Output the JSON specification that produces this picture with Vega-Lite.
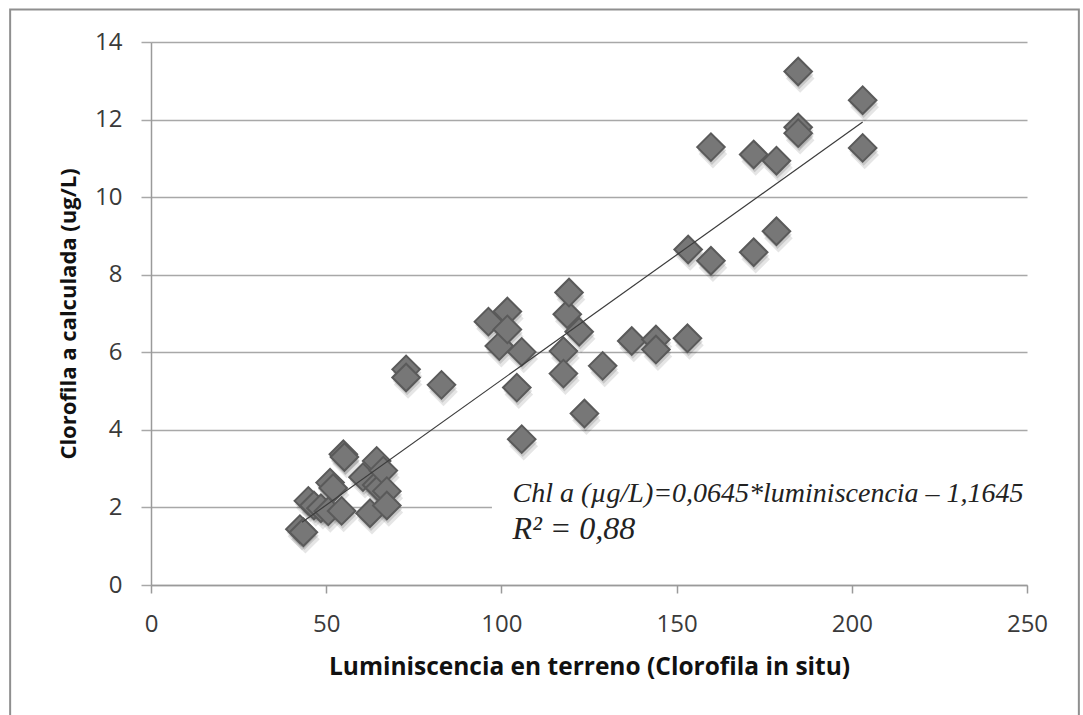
{
  "$schema": "https://vega.github.io/schema/vega-lite/v6.json",
  "width": 876,
  "height": 543,
  "autosize": "none",
  "padding": {"left": 151, "top": 42, "right": 56, "bottom": 130},
  "background": "white",
  "config": {
    "view": {"stroke": null},
    "font": "Open Sans"
  },
  "datasets": {
    "muestras": [
      {"lum": 42.5, "chl": 1.44}, {"lum": 43.5, "chl": 1.36}, {"lum": 44.9, "chl": 2.17},
      {"lum": 46.5, "chl": 2.05}, {"lum": 48.5, "chl": 1.98}, {"lum": 50.6, "chl": 1.9},
      {"lum": 51.1, "chl": 2.64}, {"lum": 52.0, "chl": 2.5}, {"lum": 54.4, "chl": 1.91},
      {"lum": 54.9, "chl": 3.37}, {"lum": 55.2, "chl": 3.3}, {"lum": 60.5, "chl": 2.78},
      {"lum": 62.5, "chl": 1.85}, {"lum": 64.4, "chl": 3.2}, {"lum": 64.4, "chl": 2.58},
      {"lum": 65.2, "chl": 2.5}, {"lum": 66.3, "chl": 2.95}, {"lum": 67.3, "chl": 2.42},
      {"lum": 67.3, "chl": 2.05},
      {"lum": 72.8, "chl": 5.56}, {"lum": 72.8, "chl": 5.35}, {"lum": 82.9, "chl": 5.16},
      {"lum": 96.3, "chl": 6.79}, {"lum": 99.4, "chl": 6.16}, {"lum": 101.7, "chl": 7.05},
      {"lum": 101.7, "chl": 6.59}, {"lum": 104.4, "chl": 5.09}, {"lum": 105.8, "chl": 6.01},
      {"lum": 105.8, "chl": 3.76}, {"lum": 117.7, "chl": 6.03}, {"lum": 117.7, "chl": 5.45},
      {"lum": 118.8, "chl": 6.98}, {"lum": 119.3, "chl": 7.54}, {"lum": 122.2, "chl": 6.53},
      {"lum": 123.7, "chl": 4.42}, {"lum": 128.9, "chl": 5.65}, {"lum": 137.2, "chl": 6.29},
      {"lum": 144.1, "chl": 6.33}, {"lum": 144.1, "chl": 6.07}, {"lum": 153.1, "chl": 6.36},
      {"lum": 153.3, "chl": 8.65}, {"lum": 159.8, "chl": 8.36}, {"lum": 159.8, "chl": 11.29},
      {"lum": 172.0, "chl": 8.58}, {"lum": 172.0, "chl": 11.1}, {"lum": 178.5, "chl": 9.12},
      {"lum": 178.5, "chl": 10.94}, {"lum": 184.7, "chl": 13.24}, {"lum": 184.7, "chl": 11.8},
      {"lum": 184.7, "chl": 11.65}, {"lum": 203.1, "chl": 12.5}, {"lum": 203.1, "chl": 11.27}
    ],
    "tendencia": [
      {"lum": 43.1, "chl": 1.615},
      {"lum": 203.1, "chl": 11.935}
    ]
  },
  "layer": [
    {
      "data": {"values": [{}]},
      "mark": {"type": "rect", "fill": "white", "stroke": null, "clip": false},
      "encoding": {
        "x": {"datum": 97.3, "type": "quantitative", "scale": {"domain": [0, 250], "nice": false}},
        "x2": {"datum": 251.5},
        "y": {"datum": 0.05, "type": "quantitative", "scale": {"domain": [0, 14], "nice": false}},
        "y2": {"datum": 2.95}
      }
    },
    {
      "data": {"values": [{}]},
      "mark": {"type": "rect", "fill": null, "stroke": "#8f8f8f", "strokeWidth": 2, "clip": false},
      "encoding": {
        "x": {"datum": -40.2, "type": "quantitative", "scale": {"domain": [0, 250], "nice": false}},
        "x2": {"datum": 264.8},
        "y": {"datum": 14.84, "type": "quantitative", "scale": {"domain": [0, 14], "nice": false}},
        "y2": {"datum": -3.8}
      }
    },
    {
      "data": {"name": "muestras"},
      "mark": {"type": "point", "shape": "diamond", "filled": true, "size": 820, "color": "#000000", "opacity": 0.1, "xOffset": 2, "yOffset": 7},
      "encoding": {
        "x": {"field": "lum", "type": "quantitative", "scale": {"domain": [0, 250], "nice": false}},
        "y": {"field": "chl", "type": "quantitative", "scale": {"domain": [0, 14], "nice": false}}
      }
    },
    {
      "data": {"name": "muestras"},
      "mark": {"type": "point", "shape": "diamond", "filled": true, "size": 820, "color": "#000000", "opacity": 0.13, "xOffset": 1, "yOffset": 3.5},
      "encoding": {
        "x": {"field": "lum", "type": "quantitative", "scale": {"domain": [0, 250], "nice": false}},
        "y": {"field": "chl", "type": "quantitative", "scale": {"domain": [0, 14], "nice": false}}
      }
    },
    {
      "data": {"name": "muestras"},
      "mark": {"type": "point", "shape": "diamond", "filled": true, "size": 760, "fill": "#777777", "stroke": "#5a5a5a", "strokeWidth": 2, "opacity": 1},
      "encoding": {
        "x": {
          "field": "lum",
          "type": "quantitative",
          "scale": {"domain": [0, 250], "nice": false},
          "axis": {
            "title": "Luminiscencia en terreno  (Clorofila in situ)",
            "values": [0, 50, 100, 150, 200, 250],
            "grid": false,
            "zindex": 1,
            "labelFlush": false,
            "domainColor": "#9a9a9a",
            "domainWidth": 1.5,
            "tickColor": "#9a9a9a",
            "tickWidth": 1.5,
            "tickSize": 8,
            "labelFont": "Open Sans",
            "labelFontSize": 24,
            "labelColor": "#3a3a3a",
            "labelPadding": 19,
            "titleFont": "Open Sans",
            "titleFontSize": 24.5,
            "titleFontWeight": "bold",
            "titleColor": "#111111",
            "titlePadding": 19
          }
        },
        "y": {
          "field": "chl",
          "type": "quantitative",
          "scale": {"domain": [0, 14], "nice": false},
          "axis": {
            "title": "Clorofila a calculada (ug/L)",
            "values": [0, 2, 4, 6, 8, 10, 12, 14],
            "grid": true,
            "zindex": 0,
            "labelFlush": false,
            "gridColor": "#a8a8a8",
            "gridWidth": 1.5,
            "domainColor": "#9a9a9a",
            "domainWidth": 1.5,
            "tickColor": "#a8a8a8",
            "tickWidth": 1.5,
            "tickSize": 10,
            "labelFont": "Open Sans",
            "labelFontSize": 24,
            "labelColor": "#3a3a3a",
            "labelPadding": 19,
            "titleFont": "Open Sans",
            "titleFontSize": 22,
            "titleFontWeight": "bold",
            "titleColor": "#111111",
            "titlePadding": 14
          }
        }
      }
    },
    {
      "data": {"name": "tendencia"},
      "mark": {"type": "line", "color": "#3c3c3c", "strokeWidth": 1.2},
      "encoding": {
        "x": {"field": "lum", "type": "quantitative", "scale": {"domain": [0, 250], "nice": false}},
        "y": {"field": "chl", "type": "quantitative", "scale": {"domain": [0, 14], "nice": false}}
      }
    },
    {
      "data": {"values": [{}]},
      "mark": {"type": "text", "align": "left", "baseline": "alphabetic", "font": "Liberation Serif", "fontStyle": "italic", "fontSize": 28, "color": "#222222"},
      "encoding": {
        "x": {"datum": 103.2, "type": "quantitative", "scale": {"domain": [0, 250], "nice": false}},
        "y": {"datum": 2.13, "type": "quantitative", "scale": {"domain": [0, 14], "nice": false}},
        "text": {"value": "Chl a (µg/L)=0,0645*luminiscencia – 1,1645"}
      }
    },
    {
      "data": {"values": [{}]},
      "mark": {"type": "text", "align": "left", "baseline": "alphabetic", "font": "Liberation Serif", "fontStyle": "italic", "fontSize": 32, "color": "#222222"},
      "encoding": {
        "x": {"datum": 103.2, "type": "quantitative", "scale": {"domain": [0, 250], "nice": false}},
        "y": {"datum": 1.18, "type": "quantitative", "scale": {"domain": [0, 14], "nice": false}},
        "text": {"value": "R² = 0,88"}
      }
    }
  ]
}
